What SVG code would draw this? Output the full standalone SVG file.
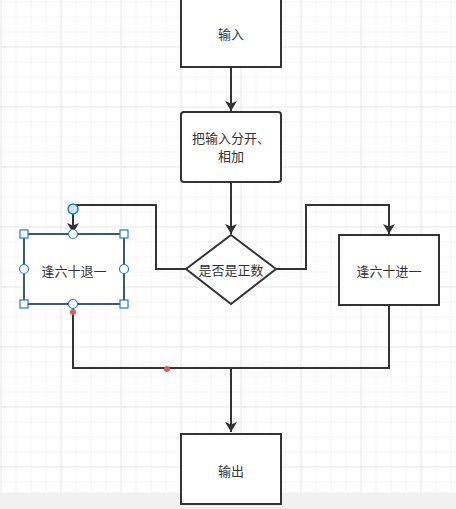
<svg xmlns="http://www.w3.org/2000/svg" width="456" height="509" viewBox="0 0 456 509">
<defs>
<pattern id="minor" width="15" height="15" patternUnits="userSpaceOnUse" x="0.5" y="1.5">
<path d="M0 0H15M0 0V15" fill="none" stroke="#ececec" stroke-width="1"/>
</pattern>
<pattern id="major" width="60" height="60" patternUnits="userSpaceOnUse" x="0.5" y="46.5">
<path d="M0 0H60M0 0V60" fill="none" stroke="#e0e0e0" stroke-width="1"/>
</pattern>
<marker id="arr" viewBox="0 0 10 12" refX="10" refY="6" markerWidth="10" markerHeight="12" markerUnits="userSpaceOnUse" orient="auto">
<path d="M0 0L10 6L0 12L2.5 6Z" fill="#333"/>
</marker>
</defs>
<style>
.box{fill:#fff;stroke:#333;stroke-width:2}
.sel{fill:#fff;stroke:#3b5878;stroke-width:2}
.lbl{font-family:"Noto Sans CJK SC","Liberation Sans",sans-serif;font-size:13px;fill:#333;text-anchor:middle;dominant-baseline:central}
.edge{fill:none;stroke:#333;stroke-width:2}
.hsq{fill:#fff;stroke:#1a7ae8;stroke-width:1.2}
.hc{fill:#fff;stroke:#1a7ae8;stroke-width:1.2}
.red{fill:#e05a5a}
</style>
<rect width="456" height="509" fill="#fff"/>
<rect width="456" height="509" fill="url(#minor)"/>
<rect width="456" height="509" fill="url(#major)"/>
<rect x="0" y="492.5" width="456" height="16.5" fill="#f1f1f1"/>
<g id="connectors">
<path class="edge" d="M231 67V111" marker-end="url(#arr)"/>
<path class="edge" d="M231 182V234" marker-end="url(#arr)"/>
<path class="edge" d="M276 269H306V205H389V234" marker-end="url(#arr)"/>
<path class="edge" d="M186 269H156V205H73V233" marker-end="url(#arr)"/>
<path class="edge" d="M73 304V368H389V305"/>
<path class="edge" d="M231 368V432" marker-end="url(#arr)"/>
</g>
<g id="n-input">
<rect class="box" x="181" y="-4" width="100" height="71"/>
<text class="lbl" x="231" y="33">输入</text>
</g>
<g id="n-split">
<rect class="box" x="181" y="112" width="100" height="70" rx="3"/>
<text class="lbl" x="231" y="137">把输入分开、</text>
<text class="lbl" x="231" y="155">相加</text>
</g>
<g id="n-decision">
<path class="box" d="M231 235L276 269L231 304L186 269Z"/>
<text class="lbl" x="231" y="269">是否是正数</text>
</g>
<g id="n-plus">
<rect class="box" x="339" y="235" width="100" height="70"/>
<text class="lbl" x="389" y="270">逢六十进一</text>
</g>
<g id="n-minus">
<rect class="sel" x="24" y="234" width="100" height="70"/>
<text class="lbl" x="74" y="270">逢六十退一</text>
<rect class="hsq" x="20" y="230" width="8" height="8"/>
<rect class="hsq" x="120" y="230" width="8" height="8"/>
<rect class="hsq" x="20" y="300" width="8" height="8"/>
<rect class="hsq" x="120" y="300" width="8" height="8"/>
<circle class="hc" cx="73" cy="234" r="4.5"/>
<circle class="hc" cx="73" cy="304" r="4.5"/>
<circle class="hc" cx="24" cy="269" r="4.5"/>
<circle class="hc" cx="124" cy="269" r="4.5"/>
</g>
<g id="n-output">
<rect class="box" x="181" y="434" width="100" height="70"/>
<text class="lbl" x="231" y="470">输出</text>
</g>
<g id="handles">
<circle cx="73" cy="209" r="5" fill="#d4e6fb" stroke="#1a7ae8" stroke-width="1.5"/>
<circle class="red" cx="73" cy="312" r="3"/>
<circle class="red" cx="167" cy="369" r="3"/>
</g>
</svg>
